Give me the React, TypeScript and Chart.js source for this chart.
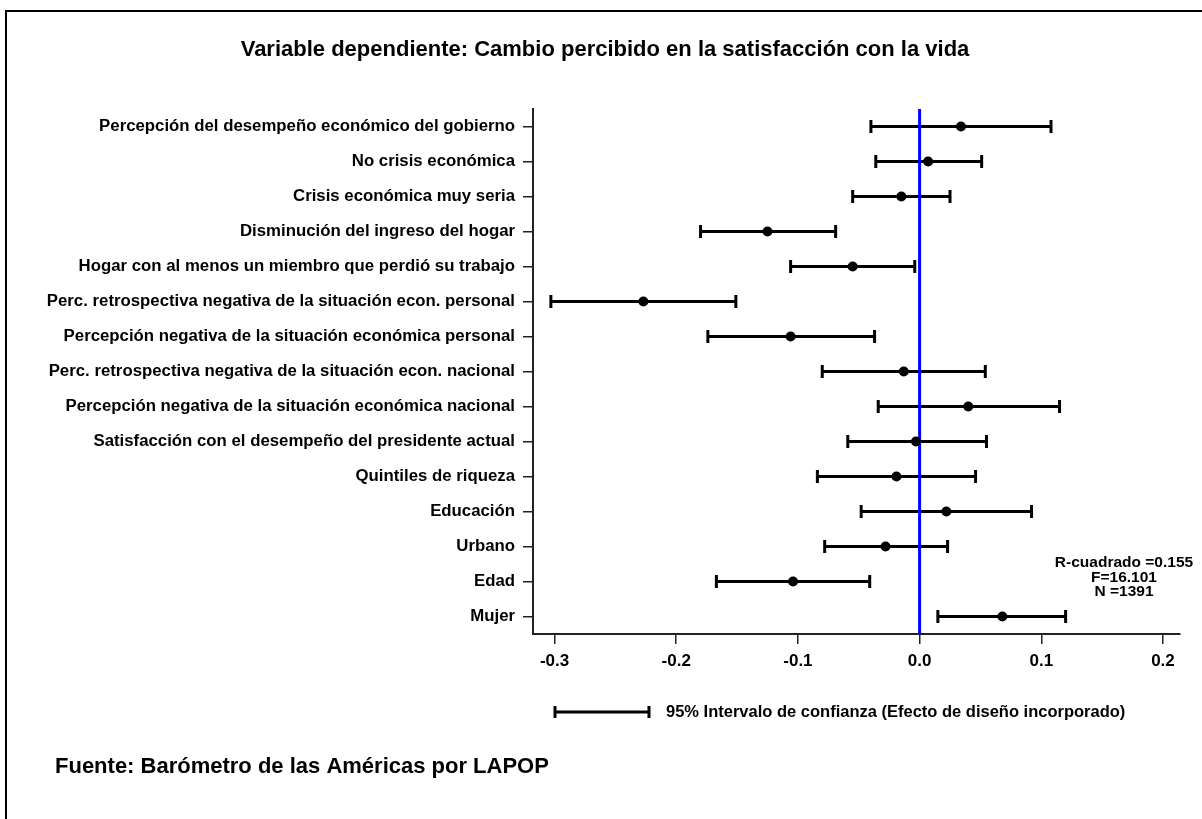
import { useEffect, useRef } from "react";
import { Chart, registerables } from "chart.js";

Chart.register(...registerables);

const categories: string[] = [
  "Percepción del desempeño económico del gobierno",
  "No crisis económica",
  "Crisis económica muy seria",
  "Disminución del ingreso del hogar",
  "Hogar con al menos un miembro que perdió su trabajo",
  "Perc. retrospectiva negativa de la situación econ. personal",
  "Percepción negativa de la situación económica personal",
  "Perc. retrospectiva negativa de la situación econ. nacional",
  "Percepción negativa de la situación económica nacional",
  "Satisfacción con el desempeño del presidente actual",
  "Quintiles de riqueza",
  "Educación",
  "Urbano",
  "Edad",
  "Mujer",
];

const estimates: number[] = [
  0.034, 0.007, -0.015, -0.125, -0.055, -0.227, -0.106, -0.013, 0.040, -0.003,
  -0.019, 0.022, -0.028, -0.104, 0.068,
];
const lowerCI: number[] = [
  -0.040, -0.036, -0.055, -0.180, -0.106, -0.303, -0.174, -0.080, -0.034, -0.059,
  -0.084, -0.048, -0.078, -0.167, 0.015,
];
const upperCI: number[] = [
  0.108, 0.051, 0.025, -0.069, -0.004, -0.151, -0.037, 0.054, 0.115, 0.055,
  0.046, 0.092, 0.023, -0.041, 0.120,
];

const xTicks: number[] = [-0.3, -0.2, -0.1, 0.0, 0.1, 0.2];
const xMin = -0.3177;
const xMax = 0.214;

const titleText = "Variable dependiente: Cambio percibido en la satisfacción con la vida";
const statsLines: string[] = ["R-cuadrado =0.155", "F=16.101", "N =1391"];
const legendText = "95% Intervalo de confianza (Efecto de diseño incorporado)";
const sourceText = "Fuente: Barómetro de las Américas por LAPOP";

const FONT = "'Liberation Sans', Arial, Helvetica, sans-serif";

const overlayPlugin = {
  id: "overlayText",
  beforeDraw(chart: any) {
    const ctx = chart.ctx;
    ctx.save();
    ctx.fillStyle = "#ffffff";
    ctx.fillRect(0, 0, chart.width, chart.height);
    ctx.strokeStyle = "#000000";
    ctx.lineWidth = 2;
    ctx.strokeRect(6, 11, chart.width + 50, chart.height + 50);
    ctx.restore();
  },
  afterDraw(chart: any) {
    const ctx = chart.ctx;
    ctx.save();
    ctx.fillStyle = "#000000";
    // stats
    ctx.font = `bold 15.5px ${FONT}`;
    ctx.textAlign = "center";
    ctx.textBaseline = "middle";
    statsLines.forEach((t, i) => ctx.fillText(t, 1124, 563 + i * 14.5));
    // legend
    ctx.strokeStyle = "#000000";
    ctx.lineWidth = 3;
    ctx.beginPath();
    ctx.moveTo(554, 712);
    ctx.lineTo(650, 712);
    ctx.moveTo(555, 706);
    ctx.lineTo(555, 718);
    ctx.moveTo(649, 706);
    ctx.lineTo(649, 718);
    ctx.stroke();
    ctx.font = `bold 16.5px ${FONT}`;
    ctx.textAlign = "left";
    ctx.fillText(legendText, 666, 712);
    // source
    ctx.font = `bold 22px ${FONT}`;
    ctx.fillText(sourceText, 55, 767);
    ctx.restore();
  },
};

export default function App() {
  const canvasRef = useRef<HTMLCanvasElement | null>(null);

  useEffect(() => {
    document.body.style.margin = "0";
    const canvas = canvasRef.current;
    if (!canvas) return;

    const ciDatasets = categories.map((_, i) => ({
      type: "scatter" as const,
      data: [
        { x: lowerCI[i], y: i },
        { x: upperCI[i], y: i },
      ],
      showLine: true,
      borderColor: "#000000",
      borderWidth: 3,
      pointRadius: 0,
      order: 3,
    }));

    const capData = categories.flatMap((_, i) => [
      { x: lowerCI[i], y: i },
      { x: upperCI[i], y: i },
    ]);

    const chart = new Chart(canvas, {
      type: "scatter",
      data: {
        datasets: [
          {
            type: "scatter",
            data: estimates.map((v, i) => ({ x: v, y: i })),
            pointRadius: 5,
            pointBackgroundColor: "#000000",
            pointBorderWidth: 0,
            order: 0,
          },
          {
            type: "scatter",
            data: [
              { x: 0, y: -0.5 },
              { x: 0, y: categories.length - 0.5 },
            ],
            showLine: true,
            borderColor: "#0000ff",
            borderWidth: 3,
            pointRadius: 0,
            order: 1,
          },
          {
            type: "scatter",
            data: capData,
            pointStyle: "line",
            rotation: 90,
            pointRadius: 6.5,
            pointBorderColor: "#000000",
            pointBorderWidth: 3,
            order: 2,
          },
          ...ciDatasets,
        ] as any,
      },
      options: {
        responsive: false,
        animation: false,
        devicePixelRatio: 1,
        layout: { padding: { left: 30, right: 22, top: 0, bottom: 0 } },
        plugins: {
          legend: { display: false },
          tooltip: { enabled: false },
          title: {
            display: true,
            text: titleText,
            color: "#000000",
            font: { family: FONT, size: 22, weight: "bold" },
            padding: { top: 37, bottom: 45.6 },
          },
        },
        scales: {
          x: {
            type: "linear",
            min: xMin,
            max: xMax,
            afterBuildTicks: (s: any) => {
              s.ticks = xTicks.map((v) => ({ value: v }));
            },
            afterFit: (s: any) => {
              s.height = 819 - 634;
            },
            ticks: {
              callback: (v: any) => Number(v).toFixed(1),
              color: "#000000",
              font: { family: FONT, size: 17, weight: "bold" },
              padding: 7,
              maxRotation: 0,
              autoSkip: false,
            },
            grid: {
              drawOnChartArea: false,
              drawTicks: true,
              tickLength: 10,
              color: "#222222",
              lineWidth: 1.5,
            },
            border: { display: true, color: "#222222", width: 2 },
          },
          y: {
            type: "linear",
            reverse: true,
            min: -0.5,
            max: categories.length - 0.5,
            afterBuildTicks: (s: any) => {
              s.ticks = categories.map((_, i) => ({ value: i }));
            },
            afterFit: (s: any) => {
              s.width = 533 - 30;
            },
            ticks: {
              callback: (v: any) => categories[Number(v)] ?? "",
              color: "#000000",
              font: { family: FONT, size: 16.8, weight: "bold" },
              padding: 8,
              autoSkip: false,
            },
            grid: {
              drawOnChartArea: false,
              drawTicks: true,
              tickLength: 10,
              color: "#222222",
              lineWidth: 1.5,
            },
            border: { display: true, color: "#222222", width: 2 },
          },
        },
      },
      plugins: [overlayPlugin],
    });

    return () => chart.destroy();
  }, []);

  return (
    <div style={{ position: "fixed", left: 0, top: 0, width: 1202, height: 819, background: "#fff" }}>
      <canvas ref={canvasRef} width={1202} height={819} style={{ width: 1202, height: 819, display: "block" }} />
    </div>
  );
}
